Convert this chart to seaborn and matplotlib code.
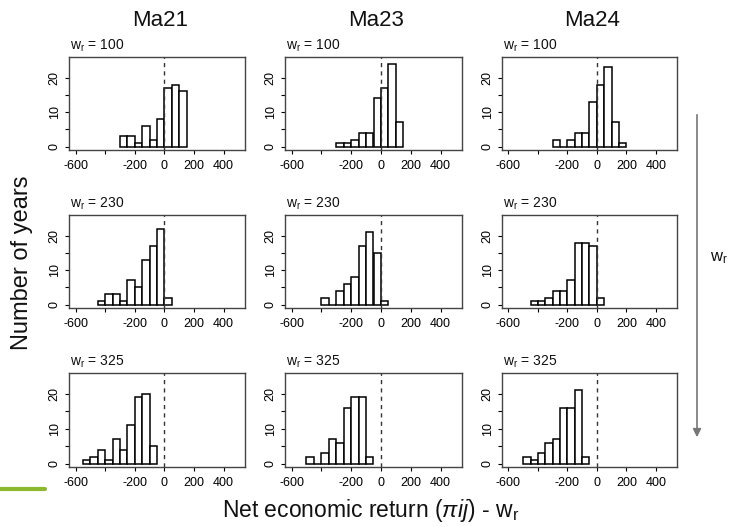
import matplotlib
matplotlib.use('Agg')
import matplotlib.pyplot as plt
from matplotlib.lines import Line2D
from matplotlib.patches import FancyArrowPatch
import numpy as np
import pandas as pd
import seaborn as sns

sns.set_style('white')
plt.rcParams['font.family'] = ['Liberation Sans', 'DejaVu Sans']
plt.rcParams['text.color'] = '#111111'
plt.rcParams['mathtext.fontset'] = 'custom'
plt.rcParams['mathtext.rm'] = 'Liberation Sans'
plt.rcParams['mathtext.it'] = 'Liberation Sans:italic'

# ---------------- data ----------------
models = ['Ma21', 'Ma23', 'Ma24']
wr_levels = [100, 230, 325]
bin_width = 50
x_ticks = [-600, -400, -200, 0, 200, 400]
x_tick_labels = ['-600', '', '-200', '0', '200', '400']
y_ticks = [0, 5, 10, 15, 20]
y_tick_labels = ['0', '', '10', '', '20']

# counts per 50-wide bin, with left edge of first bin
ma21_w100 = [3, 3, 1, 6, 2, 8, 17, 18, 16]
ma21_w100_start = -300
ma23_w100 = [1, 1, 2, 4, 4, 14, 17, 24, 7]
ma23_w100_start = -300
ma24_w100 = [2, 0, 2, 4, 4, 13, 18, 23, 7, 1]
ma24_w100_start = -300

ma21_w230 = [1, 3, 3, 1, 7, 5, 13, 17, 22, 2]
ma21_w230_start = -450
ma23_w230 = [2, 0, 4, 6, 8, 17, 21, 15, 1]
ma23_w230_start = -400
ma24_w230 = [1, 1, 2, 4, 4, 7, 18, 18, 17, 2]
ma24_w230_start = -450

ma21_w325 = [1, 2, 4, 1, 7, 4, 11, 19, 20, 5]
ma21_w325_start = -550
ma23_w325 = [2, 0, 3, 7, 6, 16, 19, 19, 2]
ma23_w325_start = -500
ma24_w325 = [2, 1, 3, 6, 7, 16, 16, 21, 2]
ma24_w325_start = -500

panels = [
    [(ma21_w100, ma21_w100_start), (ma23_w100, ma23_w100_start), (ma24_w100, ma24_w100_start)],
    [(ma21_w230, ma21_w230_start), (ma23_w230, ma23_w230_start), (ma24_w230, ma24_w230_start)],
    [(ma21_w325, ma21_w325_start), (ma23_w325, ma23_w325_start), (ma24_w325, ma24_w325_start)],
]

# ---------------- layout ----------------
W, H = 730, 527
fig = plt.figure(figsize=(W / 100, H / 100), dpi=100)
fig.patch.set_facecolor('white')

col_px = [(69, 245), (285, 462), (502, 677)]
row_px = [(57, 150), (215, 308), (373, 467)]

for r, (top, bot) in enumerate(row_px):
    for c, (left, right) in enumerate(col_px):
        ax = fig.add_axes([left / W, 1 - bot / H, (right - left) / W, (bot - top) / H])
        counts, start = panels[r][c]
        n = len(counts)
        df = pd.DataFrame({'value': start + bin_width * (np.arange(n) + 0.5),
                           'count': np.asarray(counts, dtype=float)})
        sns.histplot(data=df, x='value', weights='count', binwidth=bin_width,
                     binrange=(start, start + bin_width * n), ax=ax,
                     color='white', edgecolor='black', linewidth=1.1, alpha=1.0)
        ax.axvline(0, color='#333333', linestyle=(0, (3, 3)), linewidth=1.0, zorder=5)
        ax.set_xlim(-644, 544)
        ax.set_ylim(-1, 26)
        ax.set_xticks(x_ticks)
        ax.set_xticklabels(x_tick_labels)
        ax.set_yticks(y_ticks)
        ax.set_yticklabels(y_tick_labels, rotation=90, va='center')
        ax.tick_params(axis='both', direction='out', length=3, width=0.8,
                       labelsize=9, colors='black', pad=3,
                       bottom=True, left=True)
        ax.tick_params(axis='x', pad=4)
        ax.set_xlabel('')
        ax.set_ylabel('')
        for s in ax.spines.values():
            s.set_visible(True)
            s.set_color('#444444')
            s.set_linewidth(1.0)
        ax.annotate('w$_\\mathregular{r}$ = %d' % wr_levels[r], xy=(0, 1),
                    xycoords='axes fraction', xytext=(1, 2),
                    textcoords='offset points', ha='left', va='bottom', fontsize=10)

# column titles
for c, (left, right) in enumerate(col_px):
    fig.text((left + right) / 2 / W + 3 / W, 1 - 21 / H, models[c],
             ha='center', va='center', fontsize=16)

# axis labels
fig.text(22 / W, 1 - 263 / H, 'Number of years', rotation=90,
         ha='center', va='center', fontsize=17)
fig.text(371 / W, 1 - 510 / H, 'Net economic return ($\\pi ij$) - w$_\\mathregular{r}$',
         ha='center', va='center', fontsize=16.5)

# right arrow and label
arrow = FancyArrowPatch((697 / W, 1 - 112 / H), (697 / W, 1 - 440 / H),
                        transform=fig.transFigure, arrowstyle='-|>',
                        mutation_scale=12, color='#777777', linewidth=1.2)
fig.add_artist(arrow)
fig.text(710 / W, 1 - 258 / H, 'w$_\\mathregular{r}$', ha='left', va='center', fontsize=12)

# green decoration line
fig.add_artist(Line2D([0, 45 / W], [1 - 489 / H, 1 - 489 / H],
                      transform=fig.transFigure, color='#8db92e', linewidth=3))

fig.savefig('out.png', dpi=100)
